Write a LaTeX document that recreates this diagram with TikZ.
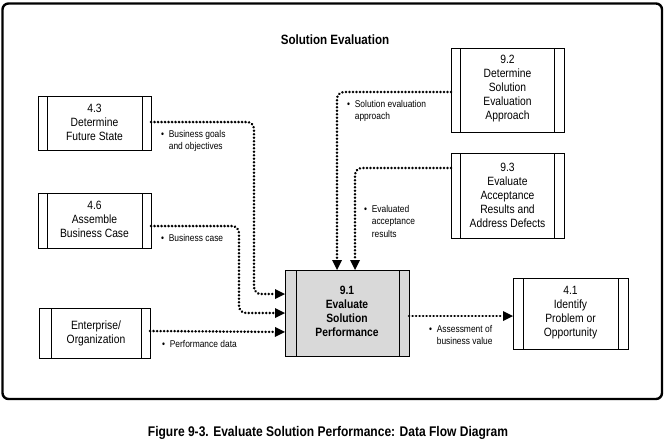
\documentclass[tikz,border=0pt]{standalone}
\usepackage{fontspec}
\setmainfont{Liberation Sans}[FakeStretch=0.86]
\usetikzlibrary{arrows.meta}
\tikzset{
  proc/.style={draw, line width=0.8pt, fill=white},
  flow/.style={line width=2.6pt, dash pattern=on 0.2pt off 3.3pt, line cap=round, rounded corners=7pt,
    -{Triangle[length=10pt,width=10pt,line cap=butt,line width=0pt]}},
  lbl/.style={font=\fontsize{9.8}{12.5}\selectfont, align=left, anchor=north west, inner sep=0pt},
  boxtxt/.style={font=\fontsize{12}{14}\selectfont, align=center, inner sep=0pt},
}
\begin{document}
\begin{tikzpicture}[x=1pt,y=-1pt]
\useasboundingbox (0,0) rectangle (665,442);
% frame
\draw[line width=2.4pt, rounded corners=6pt] (2.5,3.5) rectangle (662,399);
\node[font=\fontsize{13.5}{16}\selectfont\bfseries] (title) at (335,40) {Solution Evaluation};
% boxes
\draw[proc] (38,96) rectangle (151,150); \draw[line width=0.8pt] (47,96)--(47,150) (142,96)--(142,150);
\node[boxtxt] (b43) at (94.5,122) {4.3\\Determine\\Future State};
\coordinate (b43r) at (151,122);
\draw[proc] (38,193) rectangle (151,248); \draw[line width=0.8pt] (47,193)--(47,248) (142,193)--(142,248);
\node[boxtxt] (b46) at (94.5,219) {4.6\\Assemble\\Business Case};
\coordinate (b46r) at (151,226);
\draw[proc] (39,308) rectangle (150,358); \draw[line width=0.8pt] (51,308)--(51,358) (141,308)--(141,358);
\node[boxtxt] (ent) at (96,333) {Enterprise/\\Organization};
\coordinate (entr) at (150,331);
\draw[proc, fill=black!15] (285,270) rectangle (409,356); \draw[line width=0.8pt] (296,270)--(296,356) (399,270)--(399,356);
\node[boxtxt, font=\fontsize{12}{14}\selectfont\bfseries] (b91) at (347,311) {9.1\\Evaluate\\Solution\\Performance};
\draw[proc] (513,278) rectangle (628,349); \draw[line width=0.8pt] (523,278)--(523,349) (618,278)--(618,349);
\node[boxtxt] (b41) at (570.5,313) {4.1\\Identify\\Problem or\\Opportunity};
\draw[proc] (451,48) rectangle (564,132); \draw[line width=0.8pt] (460,48)--(460,132) (554,48)--(554,132);
\node[boxtxt] (b92) at (507.5,89) {9.2\\Determine\\Solution\\Evaluation\\Approach};
\draw[proc] (451,153) rectangle (564,238); \draw[line width=0.8pt] (460,153)--(460,238) (554,153)--(554,238);
\node[boxtxt] (b93) at (507.5,195) {9.3\\Evaluate\\Acceptance\\Results and\\Address Defects};
% anchor coordinates
\coordinate (b92l) at (451,92);
\coordinate (b93l) at (451,168);
\coordinate (t1) at (337,270);
\coordinate (t2) at (355,270);
\coordinate (l1) at (285,294);
\coordinate (l2) at (285,313);
\coordinate (l3) at (285,332);
\coordinate (r91) at (409,316);
\coordinate (l41) at (513,316);
% flows
\draw[flow] (b43r) -| (254,294) -- (l1);
\draw[flow] (b46r) -| (239,313) -- (l2);
\draw[flow] (entr) -- (l3);
\draw[flow] (b92l) -| (t1);
\draw[flow] (b93l) -| (t2);
\draw[flow] (r91) -- (l41);
% labels
\node[lbl] (lab1) at (161,130) {\textbullet\ \ Business goals\\\phantom{\textbullet\ \ }and objectives};
\node[lbl] (lab2) at (161,234) {\textbullet\ \ Business case};
\node[lbl] (lab3) at (162,340) {\textbullet\ \ Performance data};
\node[lbl] (lab4) at (347,100) {\textbullet\ \ Solution evaluation\\\phantom{\textbullet\ \ }approach};
\node[lbl] (lab5) at (364,205) {\textbullet\ \ Evaluated\\\phantom{\textbullet\ \ }acceptance\\\phantom{\textbullet\ \ }results};
\node[lbl] (lab6) at (429,325) {\textbullet\ \ Assessment of\\\phantom{\textbullet\ \ }business value};
% caption
\node[font=\fontsize{14}{16}\selectfont\bfseries] (cap) at (328,433) {Figure 9-3. Evaluate Solution Performance: Data Flow Diagram};
\end{tikzpicture}
\end{document}
